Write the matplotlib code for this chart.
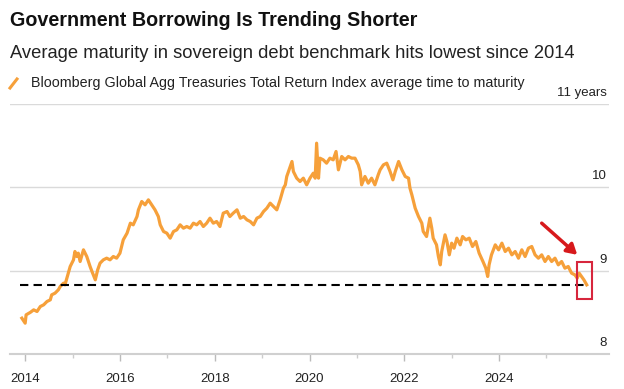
import matplotlib
matplotlib.use("Agg")
import matplotlib.pyplot as plt
from matplotlib.patches import Rectangle
from matplotlib.lines import Line2D

# ---- data ----
years = [2013.93, 2014.00, 2014.02, 2014.11, 2014.18, 2014.25, 2014.32, 2014.39, 2014.46, 2014.53,
         2014.56, 2014.63, 2014.70, 2014.74, 2014.81, 2014.84, 2014.91, 2014.95, 2015.02, 2015.05,
         2015.09, 2015.12, 2015.16, 2015.23, 2015.30, 2015.37, 2015.41, 2015.48, 2015.53, 2015.58,
         2015.65, 2015.72, 2015.79, 2015.86, 2015.93, 2016.00, 2016.07, 2016.15, 2016.22, 2016.28,
         2016.36, 2016.39, 2016.46, 2016.53, 2016.60, 2016.67, 2016.74, 2016.81, 2016.85, 2016.92,
         2016.99, 2017.06, 2017.13, 2017.20, 2017.27, 2017.34, 2017.41, 2017.48, 2017.55, 2017.62,
         2017.69, 2017.76, 2017.83, 2017.90, 2017.97, 2018.04, 2018.11, 2018.18, 2018.26, 2018.32,
         2018.39, 2018.47, 2018.54, 2018.61, 2018.68, 2018.75, 2018.82, 2018.89, 2018.96, 2019.03,
         2019.10, 2019.17, 2019.24, 2019.31, 2019.38, 2019.45, 2019.49, 2019.52, 2019.58, 2019.63,
         2019.66, 2019.73, 2019.80, 2019.87, 2019.94, 2020.01, 2020.08, 2020.12, 2020.15, 2020.19,
         2020.22, 2020.29, 2020.36, 2020.43, 2020.50, 2020.56, 2020.61, 2020.68, 2020.75, 2020.82,
         2020.89, 2020.96, 2021.03, 2021.07, 2021.10, 2021.17, 2021.24, 2021.31, 2021.38, 2021.45,
         2021.49, 2021.56, 2021.63, 2021.70, 2021.76, 2021.81, 2021.88, 2021.95, 2022.02, 2022.09,
         2022.12, 2022.16, 2022.23, 2022.30, 2022.37, 2022.40, 2022.47, 2022.54, 2022.58, 2022.61,
         2022.68, 2022.72, 2022.76, 2022.79, 2022.86, 2022.90, 2022.95, 2023.00, 2023.05, 2023.11,
         2023.18, 2023.23, 2023.30, 2023.37, 2023.44, 2023.51, 2023.58, 2023.66, 2023.72, 2023.76,
         2023.79, 2023.84, 2023.92, 2023.99, 2024.06, 2024.13, 2024.20, 2024.27, 2024.34, 2024.41,
         2024.48, 2024.55, 2024.62, 2024.69, 2024.76, 2024.83, 2024.90, 2024.97, 2025.04, 2025.11,
         2025.18, 2025.25, 2025.32, 2025.39, 2025.46, 2025.53, 2025.60, 2025.65, 2025.69, 2025.74,
         2025.79, 2025.85]
maturity = [8.43, 8.37, 8.47, 8.50, 8.53, 8.51, 8.57, 8.59, 8.63, 8.65,
            8.71, 8.73, 8.77, 8.81, 8.85, 8.83, 8.97, 9.05, 9.13, 9.23,
            9.17, 9.21, 9.11, 9.25, 9.17, 9.05, 8.99, 8.89, 9.01, 9.09,
            9.13, 9.15, 9.13, 9.17, 9.15, 9.21, 9.37, 9.45, 9.57, 9.55,
            9.65, 9.73, 9.83, 9.79, 9.85, 9.79, 9.73, 9.65, 9.55, 9.47,
            9.45, 9.39, 9.47, 9.49, 9.55, 9.51, 9.53, 9.51, 9.57, 9.55,
            9.59, 9.53, 9.57, 9.63, 9.57, 9.59, 9.53, 9.69, 9.71, 9.65,
            9.69, 9.73, 9.63, 9.65, 9.61, 9.59, 9.55, 9.63, 9.65, 9.71,
            9.75, 9.81, 9.77, 9.73, 9.85, 9.99, 10.03, 10.13, 10.23, 10.31,
            10.19, 10.11, 10.07, 10.11, 10.03, 10.11, 10.17, 10.11, 10.53, 10.11,
            10.35, 10.33, 10.29, 10.35, 10.33, 10.43, 10.21, 10.37, 10.33, 10.37,
            10.35, 10.35, 10.27, 10.19, 10.03, 10.13, 10.05, 10.11, 10.03, 10.15,
            10.21, 10.27, 10.29, 10.19, 10.09, 10.19, 10.31, 10.21, 10.13, 10.11,
            9.99, 9.91, 9.75, 9.65, 9.57, 9.47, 9.41, 9.63, 9.51, 9.39,
            9.31, 9.17, 9.07, 9.23, 9.43, 9.35, 9.19, 9.33, 9.27, 9.39,
            9.31, 9.41, 9.37, 9.39, 9.29, 9.35, 9.21, 9.11, 9.03, 8.93,
            9.07, 9.19, 9.31, 9.25, 9.33, 9.23, 9.27, 9.19, 9.23, 9.15,
            9.25, 9.17, 9.27, 9.29, 9.19, 9.15, 9.19, 9.11, 9.17, 9.11,
            9.15, 9.07, 9.11, 9.03, 9.05, 8.97, 8.95, 8.91, 8.97, 8.93,
            8.89, 8.83]
ref_level = 8.83
ref_span = [2013.90, 2025.80]
x_ticks = [2014, 2016, 2018, 2020, 2022, 2024]
x_minor = [2015, 2017, 2019, 2021, 2023, 2025]
y_ticks = [8, 9, 10, 11]
y_labels = ["8", "9", "10", "11 years"]
box_x = [2025.65, 2025.96]
box_y = [8.66, 9.11]
arrow_from = (2024.90, 9.57)
arrow_to = (2025.65, 9.19)

ORANGE = "#F6A03A"
GRID = "#DADADA"
FONT = "Liberation Sans"

fig = plt.figure(figsize=(6.24, 3.89), dpi=100)
ax = fig.add_axes([10/624, 1-354/389, 599/624, 250/389])
ax.set_xlim(2013.68, 2026.32)
ax.set_ylim(8, 11)

for v in y_ticks[1:]:
    ax.axhline(v, color=GRID, lw=1.0, zorder=1)
for s in ["top", "right", "left"]:
    ax.spines[s].set_visible(False)
ax.spines["bottom"].set_color("#D0D0D0")
ax.spines["bottom"].set_linewidth(1.5)

ax.plot(years, maturity, color=ORANGE, lw=2.3, zorder=3, solid_joinstyle="round")
ax.plot(ref_span, [ref_level, ref_level], color="black", lw=1.5, ls=(0, (4, 2.5)), zorder=4)

ax.set_yticks([])
ax.set_xticks(x_ticks)
ax.set_xticklabels([str(t) for t in x_ticks], fontfamily=FONT, fontsize=9.5, color="#222222")
ax.set_xticks(x_minor, minor=True)
ax.tick_params(axis="x", which="major", length=5, width=1, color="#BBBBBB", pad=8.5)
ax.tick_params(axis="x", which="minor", length=3, width=1, color="#CCCCCC")

for v, lab in zip(y_ticks, y_labels):
    ax.annotate(lab, xy=(1.0, v), xycoords=("axes fraction", "data"),
                xytext=(-1.5, 3.5), textcoords="offset points", ha="right", va="bottom",
                fontfamily=FONT, fontsize=9.5, color="#222222")

ax.add_patch(Rectangle((box_x[0], box_y[0]), box_x[1]-box_x[0], box_y[1]-box_y[0],
                       fill=False, edgecolor="#D7263D", lw=1.5, zorder=5))
ax.annotate("", xy=arrow_to, xytext=arrow_from,
            arrowprops=dict(arrowstyle="-|>,head_length=0.6,head_width=0.35",
                            color="#D7191C", lw=2.5, shrinkA=0, shrinkB=0), zorder=6)

fig.text(10/624, 1-26/389, "Government Borrowing Is Trending Shorter", fontfamily=FONT,
         fontweight="bold", fontsize=14.2, color="#111111", va="baseline")
fig.text(10/624, 1-58/389, "Average maturity in sovereign debt benchmark hits lowest since 2014",
         fontfamily=FONT, fontsize=13.2, color="#222222", va="baseline")
fig.add_artist(Line2D([10/624, 17/624], [1-88/389, 1-79/389], color=ORANGE, lw=2.2))
fig.text(31/624, 1-87/389, "Bloomberg Global Agg Treasuries Total Return Index average time to maturity",
         fontfamily=FONT, fontsize=10.3, color="#222222", va="baseline")

fig.savefig("out.png", dpi=100)
